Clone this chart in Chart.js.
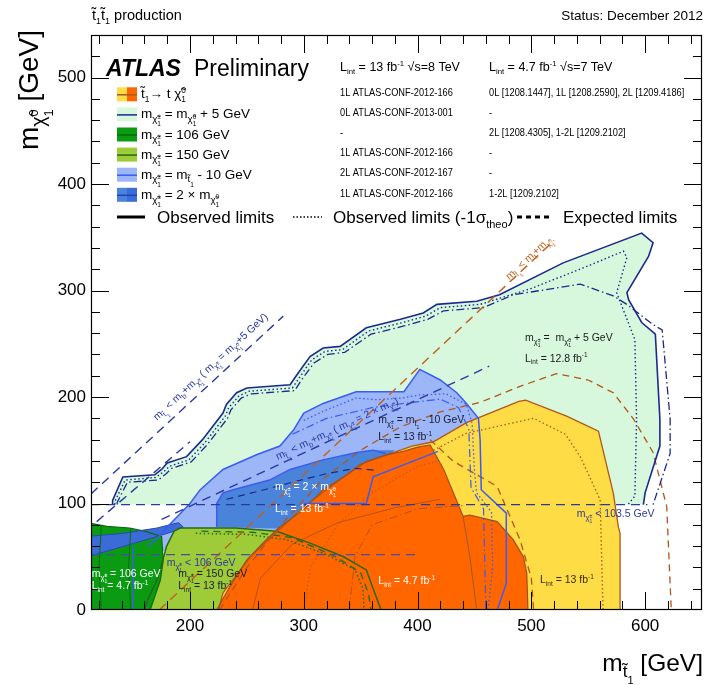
<!DOCTYPE html>
<html>
<head>
<meta charset="utf-8">
<script src="https://cdn.jsdelivr.net/npm/chart.js@4.4.1/dist/chart.umd.min.js"></script>
<style>html,body{margin:0;padding:0;background:#fff;overflow:hidden}canvas{display:block}</style>
</head>
<body>
<canvas id="c" width="712" height="685"></canvas>
<script>
const FONT = '"Liberation Sans", Arial, Helvetica, sans-serif';

// axes (GeV)
const X_RANGE = [113, 650];
const Y_RANGE = [0, 540];
const X_TICKS = [200, 300, 400, 500, 600];
const Y_TICKS = [0, 100, 200, 300, 400, 500];
const MINOR_STEP = 20;

// ---- contours, points are [m(stop), m(chi0)] in GeV ----
// m(chi+-) = m(chi0) + 5 GeV, 0L 13 fb-1
const c5Obs = [[132,99],[132,103],[141,125],[169,127],[175,132],[180,138],[197,144],[211,160],[229,185],[232,193],[241,204],[250,208.5],[288,211.6],[294,221],[305.5,238],[317,246],[332,247.6],[355,265],[385,273],[405,279],[417,287],[452,290],[472,296],[528,326],[597,354],[607,345],[603,332],[584,298],[585.5,291.5],[597,270],[609,259],[613,179],[613,154],[600,110],[598.5,99]];
const c5Minus1s = [[134,99],[134,102],[143,122],[170,124.5],[177,130],[182,135],[199,141],[213,157],[231,182],[234,190],[243,201],[252,205.5],[290,208.5],[296,218],[307,235],[319,243],[334,244.5],[357,262],[387,270],[407,276],[420,284],[455,287],[500,302],[545,321],[581,337],[584,331],[575,298],[583,276],[591,254],[592.5,179],[591,107],[585,99]];
const c5Exp = [[136,99],[136,101],[145,120],[172,122],[179,128],[184,133],[201,139],[215,155],[233,180],[236,188],[245,199],[254,203],[292,206],[298,216],[309,232],[321,240],[336,242],[359,259],[389,267],[409,273],[423,281],[458,284],[484,296],[543,306],[572,295],[584,287],[607,268],[615,263],[622,179],[622,147],[607,99]];

// m(chi+-) = m(stop) - 10 GeV, 2L 13 fb-1
const mt10Fill = [[163,60],[172,68],[180,78],[200,100],[209,113],[229,132],[259,146],[279,154],[291,169],[300,185],[317,194],[346,205],[388,205],[402,226],[420,216],[434.5,204],[443,194],[453.5,180],[455,150],[420,120],[350,90],[280,60],[200,48]];
const mt10Obs = [[163,60],[172,68],[180,78],[200,100],[209,113],[229,132],[259,146],[279,154],[291,169],[300,185],[317,194],[346,205],[388,205],[402,226],[420,216],[434.5,204],[443,194],[453.5,180],[455,160],[456,113],[478,91],[478,25],[470,0]];
const mt10Minus1s = [[300,178],[320,188],[346,199],[364,197.5],[386,199],[402,202],[425,203],[443,193],[448,175],[450,130],[452,110],[465,92],[466,40],[462,0]];
const mt10Exp = [[290,165],[320,180],[360,190],[395,195],[420,198],[436,190],[445,170],[447,115],[458,95],[460,0]];

// m(chi+-) = 2 m(chi0), 1L 13 fb-1
const twoXFill = [[223.5,78],[223.5,100],[229,110],[238,113],[270,122],[288,132],[317,141],[346.5,148],[361,150],[380,150],[340,110],[290,76]];
const twoXObs = [[223.5,78],[223.5,100],[229,110],[238,113],[270,122],[288,132],[317,141],[346.5,148],[361,150],[372,147]];
const twoXObsB = [[418,149],[361,125],[355,100],[300,100]];
const twoXExp = [[232,104],[262,112],[290,120],[320,128],[345,133],[365,131]];
// m(chi+-) = 2 m(chi0), 1-2L 4.7 fb-1
const twoX47Fill = [[110,50],[141,59.6],[171,69],[186,74],[194,78],[190,82],[182,80],[171,77],[141,72],[110,69]];

// stop -> t chi0, 1L 13 fb-1
const stop13Obs = [[225,0],[229,16],[253,50],[300,97],[350,137],[395,154],[414,158],[443,176],[489,196],[495,197],[531,182],[559,168],[572,110],[576.5,78],[578,72],[578,0]];
const stop13Minus1s = [[414,150],[443,166],[502,180],[530,165],[543,144],[560.5,103.5],[563,0]];
const stop13Exp = [[226,0],[250,40],[280,80],[317,123],[350,150],[385,172],[420,186],[455,195],[490,210],[522,222],[550,216],[572,204],[590,179],[607,148],[619,97],[623,0]];
// stop -> t chi0, 0L/1L/2L 4.7 fb-1
const stop47Obs = [[223.5,0],[235,22],[250,47],[267,66],[279,78],[299.6,94],[317,113],[335,125],[355,139.5],[373,146],[387.5,149],[400,153],[411,155],[423,132],[440,88],[446,89],[470,83],[484,66],[493,50],[496,34.5],[497,0]];
const stop47Exp = [[411,160],[431,140],[470,116],[490,66],[500,30],[502,0]];
const stop47LineA = [[440,88],[446,50],[452,0]];
const stop47LineB = [[255,0],[262,30],[290,62],[330,82],[380,96],[420,104]];
const stop47LineC = [[300,0],[306,40],[330,80],[360,110],[400,135],[418,140]];
const stop47LineD = [[340,0],[345,50],[360,80],[400,95],[440,98]];

// m(chi+-) = 150 GeV, 1L 13 fb-1
const c150Fill = [[160,0],[163,10],[171,28],[179.5,60],[186,74],[191,77],[240,77],[285,74],[300,60],[300,0]];
const c150Obs = [[160,0],[163,10],[171,28],[179.5,60],[186,74],[191,77],[240,77],[276,74],[305,63],[335,50],[355,37.6],[361,20],[368,0]];
const c150Minus1s = [[205,72],[250,71],[285,66],[320,52],[345,38],[352,20],[353,0]];
const c150Exp = [[210,74],[255,73],[290,68],[328,50],[350,35],[357,15],[359,0]];

// m(chi+-) = 106 GeV, 4.7 fb-1
const c106Fill = [[110,0],[110,82],[127,78.5],[147,77],[160,74],[175,69],[176.5,47],[174,28],[165,0]];
const c106Obs = [[110,82],[127,78.5],[147,77],[160,74],[175,69],[176.5,47],[174,28],[165,0]];
const c106LineA = [[122,79],[120,40],[122,0]];
const c106LineB = [[148,77],[146,40],[148,0]];
const c106Blue = [[150,0],[150,60]];

// kinematic and LEP boundaries
const kinTop = [[173,0],[520,347]];
const kinB5 = [[113,109],[282,276]];
const kinB2x = [[175,85],[463,229]];
const kinBlow = [[118,83],[200,158]];
const lep103 = [[113,99],[602,99]];
const lep106 = [[113,52],[400,52]];

const C = {
  green5: '#d7f8dc', navy: '#1b2a8c', lblue: '#9cb6f8', blue: '#3a5cf0',
  mblue: '#4a84da', band: '#3a6bd6', yellow: '#fedc45', orange: '#ff6600',
  brown: '#b0561a', olive: '#9ecc38', dgreen: '#0b9b12', gline: '#236b16'
};
const DOT = [1.5, 2.5], DASH = [7, 5], DASHDOT = [8, 3, 1.5, 3], LDASH = [9, 6];

const pts = a => a.map(([x, y]) => ({x, y}));
const area = (a, color) => ({data: pts(a), fill: 'shape', backgroundColor: color, borderWidth: 0, borderColor: 'rgba(0,0,0,0)'});
const line = (a, color, w, dash) => ({data: pts(a), fill: false, borderColor: color, borderWidth: w, borderDash: dash || []});

// bottom layer first
const layers = [
  area(c5Obs, C.green5),
  area(mt10Fill, C.lblue),
  area(twoXFill, C.mblue),
  area(c150Fill, C.olive),
  area(stop13Obs, C.yellow),
  area(stop47Obs, C.orange),
  area(c106Fill, C.dgreen),
  area(twoX47Fill, C.band),
  line(stop47LineB, '#b5521a', 1),
  line(stop47LineC, '#b5521a', 1, DOT),
  line(stop47LineD, '#b5521a', 1, DASHDOT),
  line(stop47LineA, '#9a5a2a', 1),
  line(c106LineA, '#0a6a0a', 1),
  line(c106LineB, '#0a6a0a', 1),
  line(c106Obs, '#0a6a0a', 1.2),
  line(c106Blue, C.blue, 1.5),
  line(twoX47Fill.concat([twoX47Fill[0]]), '#2748b8', 1),
  line(c150Obs, C.gline, 1.5),
  line(c150Minus1s, C.gline, 1.5, DOT),
  line(c150Exp, C.gline, 1.3, DASH),
  line(stop13Obs, C.brown, 1.3),
  line(stop13Minus1s, C.brown, 1.3, DOT),
  line(stop13Exp, C.brown, 1.3, DASH),
  line(stop47Exp, C.brown, 1.3, DASH),
  line(stop47Obs, '#a0501a', 1.2),
  line(twoXObs, C.blue, 1.5),
  line(twoXObsB, C.blue, 1.5),
  line(twoXExp, C.navy, 1.2, DASH),
  line(mt10Obs, C.blue, 1.5),
  line(mt10Minus1s, C.blue, 1.3, DOT),
  line(mt10Exp, C.blue, 1.2, DASHDOT),
  line(c5Obs, C.navy, 1.6),
  line(c5Minus1s, C.navy, 1.4, DOT),
  line(c5Exp, C.navy, 1.3, DASHDOT),
  line(kinTop, '#c0601a', 1.4, LDASH),
  line(kinB5, '#2a3aa0', 1.4, LDASH),
  line(kinB2x, '#2a3aa0', 1.4, LDASH),
  line(kinBlow, '#2a3aa0', 1.4, LDASH),
  line(lep103, '#2a3aa0', 1.4, LDASH),
  line(lep106, '#4a4ab0', 1.4, LDASH)
];
const datasets = layers.map((d, i) => Object.assign(d, {order: layers.length - i, pointRadius: 0, tension: 0}));

// ---- rich text: sub/superscripts ----
function rich(ctx, x, y, items, fs, color, align, weight) {
  const toks = items.map(it => typeof it === 'string' ? {t: it} : it);
  const placed = [];
  let cx = 0, stackW = null;
  for (const tk of toks) {
    const font = ((weight || '') + ' ' + (fs * (tk.s || 1)) + 'px ' + FONT).trim();
    ctx.font = font;
    const w = ctx.measureText(tk.t).width;
    placed.push({tk, font, x: cx});
    if (tk.st) { stackW = w; continue; }
    if (stackW !== null) { cx += Math.max(stackW, w); stackW = null; } else cx += w;
  }
  const x0 = align === 'right' ? x - cx : align === 'center' ? x - cx / 2 : x;
  ctx.fillStyle = color;
  ctx.textAlign = 'left';
  ctx.textBaseline = 'alphabetic';
  for (const p of placed) {
    ctx.font = p.font;
    ctx.fillText(p.tk.t, x0 + p.x, y + (p.tk.dy || 0) * fs);
  }
  return cx;
}
const CHI = 'χ\u0303', STOP = 't\u0303';
const chiSub = s => [{t: CHI, s: .72, dy: .28}, {t: s, s: .48, dy: .04, st: true}, {t: '1', s: .48, dy: .58}];
const mChi = s => ['m', ...chiSub(s)];
const mStop = () => ['m', {t: STOP, s: .72, dy: .28}, {t: '1', s: .48, dy: .58}];
const chi0 = () => [{t: CHI}, {t: '0', s: .62, dy: -.42, st: true}, {t: '1', s: .62, dy: .25}];
const lint = v => ['L', {t: 'int', s: .62, dy: .25}, ' = ' + v + ' fb', {t: '-1', s: .62, dy: -.42}];

const decor = {
  id: 'decor',
  afterDraw(chart) {
    const {ctx, chartArea: a, scales: {x, y}} = chart;
    const px = v => x.getPixelForValue(v), py = v => y.getPixelForValue(v);
    ctx.save();

    // frame with inward ticks on all four sides
    ctx.strokeStyle = '#000';
    ctx.lineWidth = 1;
    ctx.beginPath();
    for (let v = Math.ceil(X_RANGE[0] / MINOR_STEP) * MINOR_STEP; v < X_RANGE[1]; v += MINOR_STEP) {
      const p = Math.round(px(v)) + 0.5, len = v % 100 === 0 ? 18 : 9;
      ctx.moveTo(p, a.bottom); ctx.lineTo(p, a.bottom - len);
      ctx.moveTo(p, a.top); ctx.lineTo(p, a.top + len);
    }
    for (let v = MINOR_STEP; v < Y_RANGE[1]; v += MINOR_STEP) {
      const p = Math.round(py(v)) + 0.5, len = v % 100 === 0 ? 18 : 9;
      ctx.moveTo(a.left, p); ctx.lineTo(a.left + len, p);
      ctx.moveTo(a.right, p); ctx.lineTo(a.right - len, p);
    }
    ctx.stroke();
    ctx.lineWidth = 1.2;
    ctx.strokeRect(Math.round(a.left) + 0.5, Math.round(a.top) + 0.5, Math.round(a.right - a.left) - 1, Math.round(a.bottom - a.top) - 1);

    // labels inside the exclusion regions
    const note = (vx, vy, items, color, fs) => rich(ctx, px(vx), py(vy) + 4, items, fs || 10.5, color, 'left');
    note(494.5, 256, [...mChi('±'), ' =  ', ...mChi('0'), ' + 5 GeV'], '#1a1a1a');
    note(494.5, 237, lint('12.8'), '#1a1a1a');
    note(365.5, 179, [...mChi('±'), ' = ', ...mStop(), ' - 10 GeV'], '#1a1a30');
    note(365.5, 163, lint('13'), '#1a1a30');
    note(274.7, 116, [...mChi('±'), ' = 2 × ', ...mChi('0')], '#ffffff');
    note(274.7, 95.6, lint('13'), '#ffffff');
    note(179.5, 45.4, [...mChi('±'), ' < 106 GeV'], '#2a3aa0');
    note(189.7, 35, [...mChi('±'), ' = 150 GeV'], '#1a1a30');
    note(189.7, 23.5, lint('13'), '#1a1a30');
    note(113.6, 35, [...mChi('±'), ' = 106 GeV'], '#ffffff');
    note(113.6, 23.5, lint('4.7'), '#ffffff');
    note(365.5, 28, lint('4.7'), '#ffffff');
    note(507.7, 29, lint('13'), '#3a2a10');
    note(540, 91, [...mChi('±'), ' < 103.5 GeV'], '#2a3aa0');

    // labels along the kinematic limits
    const along = (ln, vx, vy, items, color) => {
      const ang = Math.atan2(py(ln[1][1]) - py(ln[0][1]), px(ln[1][0]) - px(ln[0][0]));
      ctx.save();
      ctx.translate(px(vx), py(vy));
      ctx.rotate(ang);
      rich(ctx, 0, 4, items, 10.5, color, 'center');
      ctx.restore();
    };
    along(kinB5, 217.6, 229, [...mStop(), ' < m', {t: 'b', s: .72, dy: .28}, '+m', ...chiSub('±'), ' ( ', ...mChi('±'), ' = m', ...chiSub('0'), '+5 GeV)'], '#2a3aa0');
    along(kinB2x, 329, 171, [...mStop(), ' < m', {t: 'b', s: .72, dy: .28}, '+m', ...chiSub('±'), ' ( ', ...mChi('±'), ' = 2 × m', ...chiSub('0'), ')'], '#2a3aa0');
    along(kinTop, 497, 331, [...mStop(), ' < m', {t: 't', s: .72, dy: .28}, '+m', ...chiSub('0')], '#c0601a');

    // title block
    rich(ctx, 106, 76, ['ATLAS'], 23, '#000', 'left', 'italic bold');
    rich(ctx, 194, 76, ['Preliminary'], 23, '#000', 'left');
    rich(ctx, 340, 71, [...lint('13'), ' √s=8 TeV'], 12.5, '#000', 'left');
    rich(ctx, 489, 71, [...lint('4.7'), ' √s=7 TeV'], 12.5, '#000', 'left');

    // legend of regions
    const rows = [
      {f: [C.yellow, C.orange], l: C.brown, t: [STOP, {t: '1', s: .62, dy: .25}, '→ t ', ...chi0()],
       a: '1L ATLAS-CONF-2012-166', b: '0L [1208.1447], 1L [1208.2590], 2L [1209.4186]'},
      {f: [C.green5, C.green5], l: C.navy, t: [...mChi('±'), ' = ', ...mChi('0'), ' + 5 GeV'],
       a: '0L ATLAS-CONF-2013-001', b: '-'},
      {f: [C.dgreen, C.dgreen], l: '#0a6a0a', t: [...mChi('±'), ' = 106 GeV'],
       a: '-', b: '2L [1208.4305], 1-2L [1209.2102]'},
      {f: [C.olive, C.olive], l: C.gline, t: [...mChi('±'), ' = 150 GeV'],
       a: '1L ATLAS-CONF-2012-166', b: '-'},
      {f: [C.lblue, C.lblue], l: C.blue, t: [...mChi('±'), ' = ', ...mStop(), ' - 10 GeV'],
       a: '2L ATLAS-CONF-2012-167', b: '-'},
      {f: [C.mblue, C.band], l: '#2040c0', t: [...mChi('±'), ' = 2 × ', ...mChi('0')],
       a: '1L ATLAS-CONF-2012-166', b: '1-2L [1209.2102]'}
    ];
    rows.forEach((r, k) => {
      const yc = 94.3 + 20.1 * k;
      ctx.fillStyle = r.f[0]; ctx.fillRect(117, yc - 7, 10, 14);
      ctx.fillStyle = r.f[1]; ctx.fillRect(127, yc - 7, 10, 14);
      ctx.strokeStyle = r.l; ctx.lineWidth = 1.5;
      ctx.beginPath(); ctx.moveTo(117, yc + 0.5); ctx.lineTo(137, yc + 0.5); ctx.stroke();
      rich(ctx, 141, yc + 4, r.t, 13.5, '#000', 'left');
      const by = 95.5 + 20.2 * k;
      ctx.font = '10.5px ' + FONT;
      ctx.fillStyle = '#000';
      ctx.textAlign = 'left';
      ctx.save(); ctx.translate(340, by); ctx.scale(0.88, 1); ctx.fillText(r.a, 0, 0); ctx.restore();
      ctx.save(); ctx.translate(489, by); ctx.scale(0.88, 1); ctx.fillText(r.b, 0, 0); ctx.restore();
    });

    // legend of line styles
    ctx.strokeStyle = '#000';
    ctx.lineWidth = 3; ctx.setLineDash([]);
    ctx.beginPath(); ctx.moveTo(117, 217); ctx.lineTo(145, 217); ctx.stroke();
    ctx.lineWidth = 1.5; ctx.setLineDash([1.5, 2]);
    ctx.beginPath(); ctx.moveTo(293, 217); ctx.lineTo(322, 217); ctx.stroke();
    ctx.lineWidth = 3; ctx.setLineDash([5, 4]);
    ctx.beginPath(); ctx.moveTo(517, 217); ctx.lineTo(549, 217); ctx.stroke();
    ctx.setLineDash([]);
    rich(ctx, 157, 223, ['Observed limits'], 17, '#000', 'left');
    rich(ctx, 333, 223, ['Observed limits (-1σ', {t: 'theo', s: .65, dy: .28}, ')'], 17, '#000', 'left');
    rich(ctx, 563, 223, ['Expected limits'], 17, '#000', 'left');

    // outside texts
    rich(ctx, 92, 20, [STOP, {t: '1', s: .62, dy: .25}, STOP, {t: '1', s: .62, dy: .25}, ' production'], 14.5, '#000', 'left');
    rich(ctx, 703, 20, ['Status: December 2012'], 13.5, '#000', 'right');
    rich(ctx, 703, 671, ['m', {t: STOP, s: .7, dy: .25}, {t: '1', s: .45, dy: .55}, ' [GeV]'], 24.5, '#000', 'right');
    ctx.save();
    ctx.translate(38, 150);
    ctx.rotate(-Math.PI / 2);
    rich(ctx, 0, 0, ['m', {t: CHI, s: .7, dy: .25}, {t: '0', s: .45, dy: .0, st: true}, {t: '1', s: .45, dy: .55}, ' [GeV]'], 28, '#000', 'left');
    ctx.restore();

    ctx.restore();
  }
};

new Chart(document.getElementById('c'), {
  type: 'line',
  data: {datasets},
  options: {
    responsive: false,
    animation: false,
    events: [],
    devicePixelRatio: 1,
    layout: {padding: {top: 35, right: 10, left: 0, bottom: 0}},
    plugins: {legend: {display: false}, tooltip: {enabled: false}},
    elements: {point: {radius: 0}, line: {tension: 0}},
    scales: {
      x: {
        type: 'linear', min: X_RANGE[0], max: X_RANGE[1],
        grid: {display: false, drawTicks: false}, border: {display: false},
        afterBuildTicks: s => { s.ticks = X_TICKS.map(v => ({value: v})); },
        afterFit: s => { s.height = 75; },
        ticks: {font: {family: FONT, size: 17}, color: '#000', padding: 6, maxRotation: 0, autoSkip: false}
      },
      y: {
        type: 'linear', min: Y_RANGE[0], max: Y_RANGE[1],
        grid: {display: false, drawTicks: false}, border: {display: false},
        afterBuildTicks: s => { s.ticks = Y_TICKS.map(v => ({value: v})); },
        afterFit: s => { s.width = 91; },
        ticks: {font: {family: FONT, size: 17}, color: '#000', padding: 5, autoSkip: false}
      }
    }
  },
  plugins: [decor]
});
</script>
</body>
</html>
